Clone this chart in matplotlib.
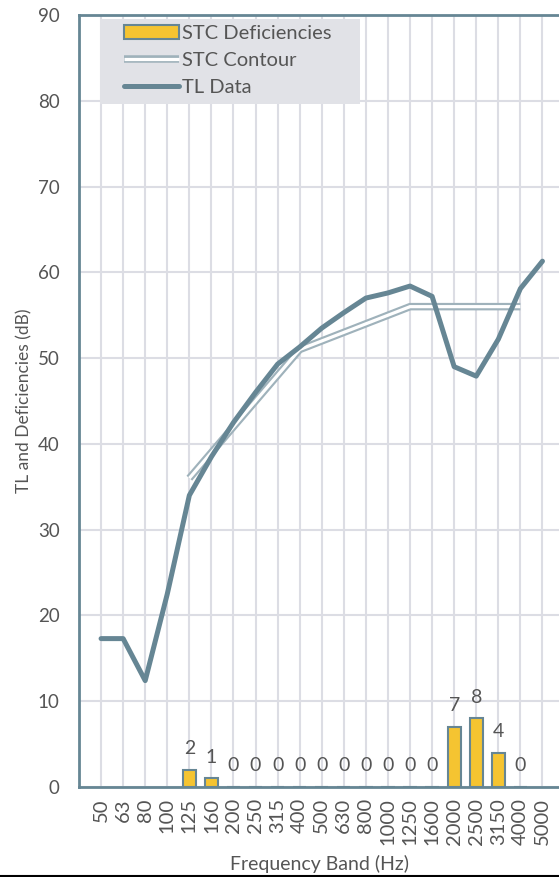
import matplotlib
matplotlib.use("Agg")
import matplotlib.pyplot as plt
import matplotlib.patheffects as pe
from matplotlib.lines import Line2D
from matplotlib.patches import Rectangle
import numpy as np

plt.rcParams['font.family'] = ['Lato', 'DejaVu Sans']

bands = ["50", "63", "80", "100", "125", "160", "200", "250", "315", "400", "500",
         "630", "800", "1000", "1250", "1600", "2000", "2500", "3150", "4000", "5000"]
tl_data = [17.3, 17.3, 12.4, 22.5, 34.0, 38.5, 42.5, 46.0, 49.3, 51.3, 53.5,
           55.3, 57.0, 57.6, 58.4, 57.2, 49.0, 47.9, 52.2, 58.1, 61.3]
contour_bands = ["125", "160", "200", "250", "315", "400", "500", "630", "800",
                 "1000", "1250", "1600", "2000", "2500", "3150", "4000"]
stc_contour = [36, 39, 42, 45, 48, 51, 52, 53, 54, 55, 56, 56, 56, 56, 56, 56]
deficiencies = [2, 1, 0, 0, 0, 0, 0, 0, 0, 0, 0, 0, 7, 8, 4, 0]

TEXT = '#555555'
SLATE = '#668694'
CONT = '#9fb2bb'
GRID = '#dcdde4'
YELLOW = '#f5c431'

W, H = 559, 877
fig = plt.figure(figsize=(W/100, H/100), dpi=100)
ax = fig.add_axes([79/W, 1-787/H, 1-79/W, (787-15)/H])

x = np.arange(len(bands))
idx = {b: i for i, b in enumerate(bands)}
cx = np.array([idx[b] for b in contour_bands])

bars = ax.bar(cx, deficiencies, width=0.6, color=YELLOW, edgecolor=SLATE,
              linewidth=1.5, zorder=3, label='STC Deficiencies')
for xi, d in zip(cx, deficiencies):
    ax.text(xi, d + 1.5, str(d), ha='center', va='bottom', fontsize=14, color=TEXT)

cl, = ax.plot(cx, stc_contour, color='white', lw=2.3, zorder=4, label='STC Contour',
              solid_capstyle='butt',
              path_effects=[pe.Stroke(linewidth=5.4, foreground=CONT, capstyle='butt'),
                            pe.Normal()])
tl, = ax.plot(x, tl_data, color=SLATE, lw=3.6, zorder=5, label='TL Data',
              solid_capstyle='round', solid_joinstyle='round')

ax.set_xlim(-1.0, 20.75)
ax.set_ylim(0, 90)
ax.set_xticks(x)
ax.set_xticklabels(bands, rotation=90, fontsize=14.5, color=TEXT)
ax.set_yticks(np.arange(0, 91, 10))
ax.tick_params(axis='y', labelsize=13.5, labelcolor=TEXT, length=0, pad=14)
ax.tick_params(axis='x', length=0, pad=8)
ax.grid(True, color=GRID, lw=1.5, zorder=0)
ax.set_axisbelow(True)
for s in ['left', 'bottom', 'top']:
    ax.spines[s].set_color(SLATE)
    ax.spines[s].set_linewidth(2)
ax.spines['right'].set_visible(False)

ax.set_xlabel('Frequency Band (Hz)', fontsize=14, color=TEXT, labelpad=7)
ax.set_ylabel('TL and Deficiencies (dB)', fontsize=12.5, color=TEXT, labelpad=4)

# legend background box
box = Rectangle((100/W, 1-104/H), 260/W, 85/H, transform=fig.transFigure,
                facecolor='#e1e2e7', edgecolor='none', zorder=9, clip_on=False)
ax.add_artist(box)

leg = ax.legend(handles=[bars, cl, tl], loc='upper left',
                bbox_to_anchor=(124/W, 1-25/H), bbox_transform=fig.transFigure,
                fontsize=14.5, frameon=False,
                handlelength=2.75, handletextpad=0.15, borderaxespad=0, labelspacing=0.5,
                borderpad=0)
for t in leg.get_texts():
    t.set_color(TEXT)
leg.set_zorder(10)

fig.add_artist(Line2D([0, 1], [1.5/H, 1.5/H], color='black', lw=1.5,
                      transform=fig.transFigure))

fig.savefig('out.png', dpi=100)
